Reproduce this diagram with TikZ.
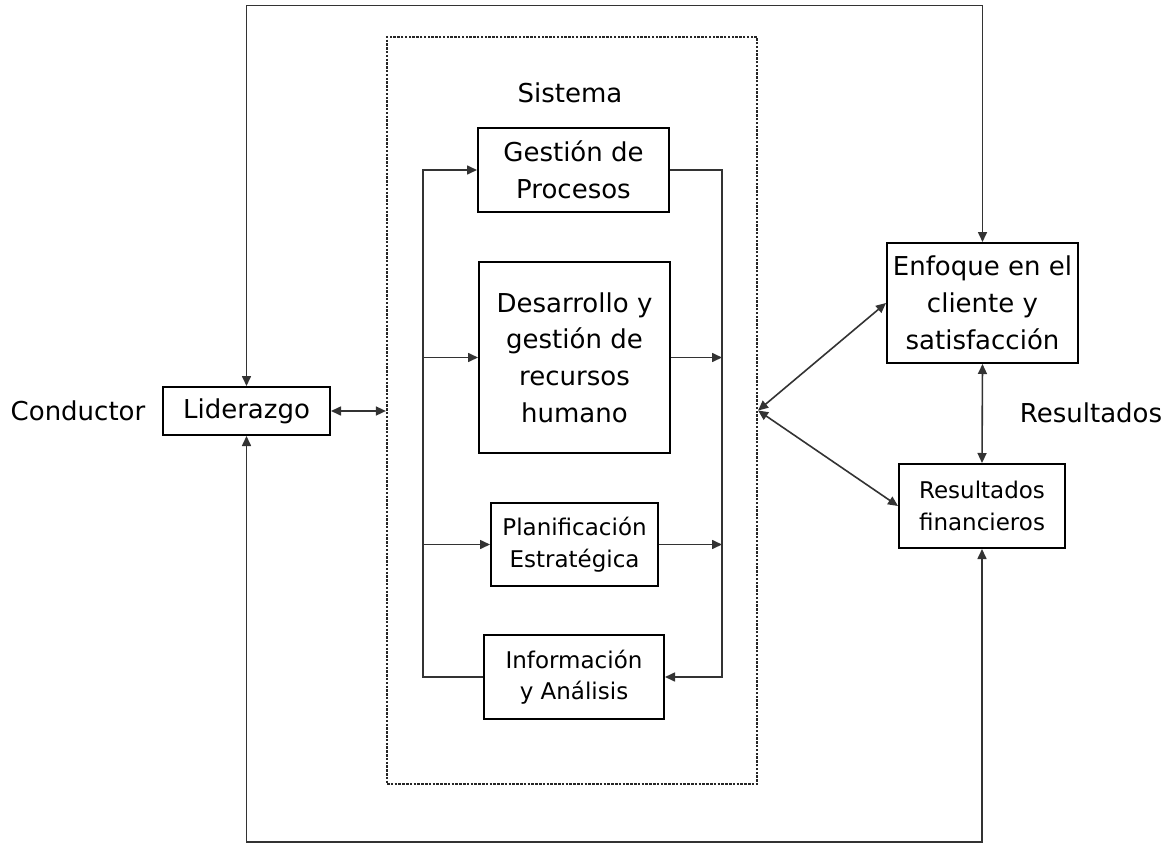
\documentclass[tikz,border=0pt]{standalone}
\usepackage{fontspec}
\setmainfont{DejaVu Sans}
\usetikzlibrary{arrows.meta,positioning,calc}
\tikzset{
  box/.style={draw=black, line width=2pt, fill=white, inner sep=0pt, align=center,
              font=\fontsize{26}{36.7}\selectfont},
  smallbox/.style={box, font=\fontsize{23}{31.5}\selectfont},
  lbl/.style={inner sep=0pt, font=\fontsize{26}{36.7}\selectfont},
  conn/.style={draw=black!80, line width=1.6pt},
  tip/.tip={Triangle[length=10pt,width=9pt]},
  arr/.style={conn, -tip},
  biarr/.style={conn, tip-tip},
  sysbox/.style={draw=black!85, line width=2.2pt, dash pattern=on 2.5pt off 1.3pt, inner sep=0pt}
}
\begin{document}
\begin{tikzpicture}[x=1pt,y=-1pt]
\useasboundingbox (0,0) rectangle (1173,843);
\fill[white] (0,0) rectangle (1173,843);

% system (dashed) box
\node[sysbox, minimum width=370pt, minimum height=747pt] (sys) at (572,410.5) {};
\node[lbl] (sistema) at (570,93) {Sistema};

% left part
\node[box, minimum width=167pt, minimum height=48pt] (lid) at (246.5,411) {Liderazgo};
\node[lbl] (cond) at (78,411) {Conductor};

% inner boxes
\node[box, minimum width=191pt, minimum height=84pt] (ges) at (573.5,170) {Gestión de\\Procesos};
\node[box, minimum width=191pt, minimum height=191pt] (des) at (574.5,357.5) {Desarrollo y\\gestión de\\recursos\\humano};
\node[smallbox, minimum width=167pt, minimum height=83pt] (pla) at (574.5,544.5) {Planificación\\Estratégica};
\node[smallbox, minimum width=180pt, minimum height=84pt] (inf) at (574,677) {Información\\y Análisis};

% right part
\node[box, minimum width=191pt, minimum height=120pt] (enf) at (982.5,303) {Enfoque en el\\cliente y\\satisfacción};
\node[smallbox, minimum width=166pt, minimum height=84pt] (rf) at (982,506) {Resultados\\financieros};
\node[lbl] (res) at (1091,413) {Resultados};

% helper coordinates
\coordinate (top) at (0,5.5);
\coordinate (bot) at (0,842);
\coordinate (lbus) at (423,0);
\coordinate (rbus) at (722,0);

% outer loops
\draw[biarr] (lid.north) -- (lid.north |- top) -| (enf.north);
\draw[biarr] (lid.south) -- (lid.south |- bot) -| (rf.south);

% leadership <-> system
\draw[biarr] (lid.east) -- (lid.east -| sys.west);

% system <-> results
\draw[biarr] (sys.east) -- (enf.west);
\draw[biarr] (sys.east) -- (rf.west);
\draw[biarr] (enf.south) -- (rf.north);

% left bus
\draw[arr] (inf.west) -- (inf.west -| lbus) -- (ges.west -| lbus) -- (ges.west);
\draw[arr] (des.west -| lbus) -- (des.west);
\draw[arr] (pla.west -| lbus) -- (pla.west);

% right bus
\draw[arr] (ges.east) -- (ges.east -| rbus) -- (inf.east -| rbus) -- (inf.east);
\draw[arr] (des.east) -- (des.east -| rbus);
\draw[arr] (pla.east) -- (pla.east -| rbus);
\end{tikzpicture}
\end{document}
